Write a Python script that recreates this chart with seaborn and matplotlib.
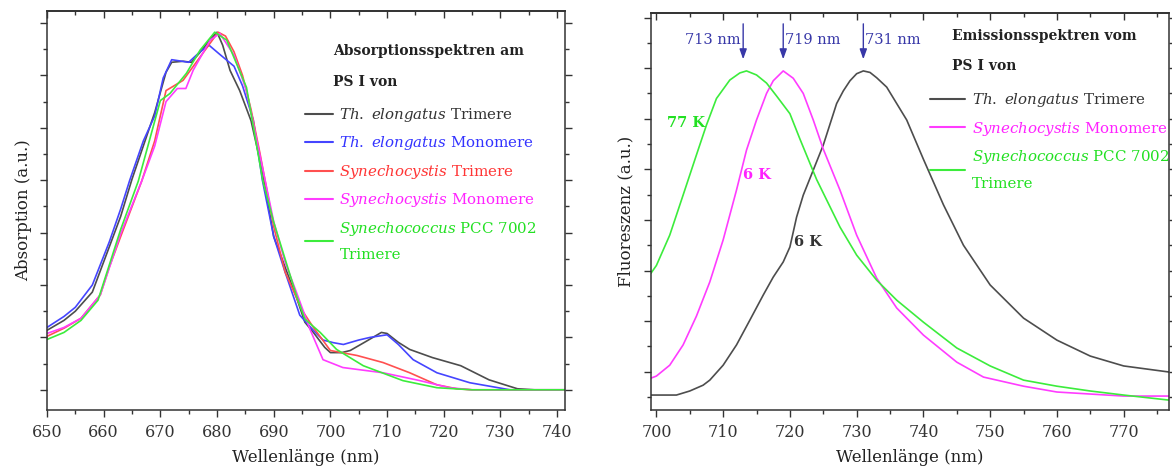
import pandas as pd
import seaborn as sns
import matplotlib.pyplot as plt
from matplotlib.lines import Line2D
from matplotlib.ticker import MultipleLocator, FixedLocator

# ---- absorption spectra (left panel), wavelength in nm, arbitrary units ----
abs_te_tri_x = [650, 653, 655, 658, 661, 663, 665, 667, 669, 671, 672, 674, 675.5, 677, 679, 680, 681,
                682.3, 684, 686, 688, 690, 692, 694, 695.5, 697, 699, 700, 702, 703.5, 706, 709, 710,
                712, 714, 718, 723, 728, 733, 736, 741.4]
abs_te_tri_y = [0.227, 0.265, 0.30, 0.373, 0.546, 0.662, 0.804, 0.931, 1.058, 1.212, 1.25, 1.254, 1.25,
                1.288, 1.342, 1.365, 1.315, 1.219, 1.142, 1.027, 0.835, 0.585, 0.469, 0.354, 0.258,
                0.219, 0.162, 0.142, 0.142, 0.15, 0.181, 0.219, 0.215, 0.181, 0.154, 0.123, 0.092,
                0.038, 0.004, 0.0, 0.0]

abs_te_mono_x = [650, 653, 655, 658, 661, 663, 664.6, 667, 669, 670.5, 672, 675, 677, 678.6, 680.5, 683,
                 684.5, 686.4, 688, 690, 692, 694.6, 697, 698.7, 700.5, 702.3, 705, 707, 710, 712,
                 714.6, 718.8, 724.6, 731.7, 741.4]
abs_te_mono_y = [0.238, 0.28, 0.315, 0.40, 0.565, 0.69, 0.80, 0.95, 1.045, 1.19, 1.26, 1.25, 1.29, 1.315,
                 1.28, 1.235, 1.16, 1.03, 0.80, 0.585, 0.45, 0.285, 0.227, 0.19, 0.18, 0.173, 0.19,
                 0.20, 0.21, 0.173, 0.115, 0.065, 0.027, 0.0, 0.0]

abs_sy_tri_x = [650, 653, 656, 659.4, 661, 663, 666.7, 669, 671, 674, 677, 680.2, 681.5, 683, 684.5,
                686, 687.6, 690, 692, 695, 697, 700, 704.7, 709.3, 714, 718.8, 722.3, 725, 741.4]
abs_sy_tri_y = [0.204, 0.235, 0.273, 0.362, 0.469, 0.585, 0.796, 0.95, 1.142, 1.181, 1.27, 1.365, 1.35,
                1.29, 1.20, 1.07, 0.9, 0.623, 0.45, 0.304, 0.238, 0.15, 0.131, 0.104, 0.065, 0.019,
                0.004, 0.0, 0.0]

abs_sy_mono_x = [650, 653, 656, 659.4, 663, 666.7, 669, 671, 673, 674.5, 675.8, 678.8, 680.5, 683, 685.2,
                 687.6, 690, 692, 694, 696.4, 698.7, 702.2, 709.3, 715.8, 721, 725, 741.4]
abs_sy_mono_y = [0.215, 0.238, 0.273, 0.362, 0.596, 0.796, 0.93, 1.10, 1.15, 1.15, 1.22, 1.335, 1.36,
                 1.277, 1.142, 0.892, 0.642, 0.488, 0.373, 0.231, 0.115, 0.085, 0.065, 0.035, 0.008,
                 0.0, 0.0]

abs_sc_tri_x = [650, 653, 656, 659, 663, 666.1, 670, 671.7, 674.6, 677, 679.6, 681.7, 685.2, 688.1, 690,
                692, 694, 695.5, 698.2, 701.1, 705.8, 712.8, 718.8, 725, 741.4]
abs_sc_tri_y = [0.192, 0.219, 0.265, 0.342, 0.612, 0.796, 1.104, 1.131, 1.208, 1.296, 1.365, 1.335,
                1.154, 0.796, 0.64, 0.50, 0.36, 0.27, 0.219, 0.154, 0.092, 0.035, 0.008, 0.0, 0.0]

# ---- emission spectra (right panel) ----
em_te_tri_x = [699.2, 700.5, 703, 705, 707, 708, 710, 712, 714, 716, 717.5, 719, 720, 721, 722, 723.5,
               725, 727, 728, 729, 730, 731, 732, 733, 734.5, 736, 737.5, 740, 743, 746, 750, 755,
               760, 765, 770, 776.8]
em_te_tri_y = [0.008, 0.008, 0.008, 0.024, 0.047, 0.067, 0.126, 0.206, 0.304, 0.403, 0.474, 0.534,
               0.593, 0.711, 0.798, 0.897, 0.996, 1.16, 1.21, 1.25, 1.278, 1.289, 1.283, 1.262,
               1.225, 1.16, 1.095, 0.94, 0.76, 0.60, 0.443, 0.312, 0.225, 0.162, 0.123, 0.099]

em_sy_mono_x = [699.2, 700, 702, 704, 706, 708, 710, 712, 713.5, 715, 716.5, 717.5, 719, 720.5, 722,
                723.5, 725, 727.5, 730, 733, 736, 740, 745, 749, 755, 760, 765, 770, 776.8]
em_sy_mono_y = [0.075, 0.083, 0.126, 0.206, 0.32, 0.455, 0.621, 0.818, 0.976, 1.095, 1.20, 1.25, 1.289,
                1.26, 1.20, 1.095, 0.98, 0.818, 0.64, 0.47, 0.352, 0.245, 0.138, 0.079, 0.043, 0.02,
                0.012, 0.004, 0.004]

em_sc_tri_x = [699.2, 700, 702, 704, 706, 707.5, 709, 711, 712.5, 713.5, 715, 716.5, 718, 720, 721.5,
               724, 727.5, 730, 733, 736, 740, 745, 750, 755, 760, 765, 770, 776.8]
em_sc_tri_y = [0.49, 0.52, 0.64, 0.798, 0.957, 1.075, 1.18, 1.253, 1.281, 1.289, 1.273, 1.241, 1.19,
               1.12, 1.02, 0.86, 0.672, 0.561, 0.462, 0.383, 0.296, 0.194, 0.123, 0.067, 0.043,
               0.024, 0.008, -0.012]

peak_nm = [713, 719, 731]
peak_labels = ['713 nm', '719 nm', '731 nm']

abs_names = ['te_tri', 'te_mono', 'sy_tri', 'sy_mono', 'sc_tri']
abs_labels = [r'$Th.\ elongatus$ Trimere', r'$Th.\ elongatus$ Monomere',
              r'$Synechocystis$ Trimere', r'$Synechocystis$ Monomere',
              '$Synechococcus$ PCC 7002\nTrimere']
em_names = ['te_tri', 'sy_mono', 'sc_tri']
em_labels = [abs_labels[0], abs_labels[3], abs_labels[4]]

line_col = {'te_tri': '#4d4d4d', 'te_mono': '#4545ff', 'sy_tri': '#ff5050',
            'sy_mono': '#ff3cff', 'sc_tri': '#3cec3c'}
text_col = {'te_tri': '#333333', 'te_mono': '#3333ff', 'sy_tri': '#ff3535',
            'sy_mono': '#ff22ff', 'sc_tri': '#22e022'}
arrow_col = '#3838a8'


def frame(xs, ys, names):
    parts = []
    for x, y, n in zip(xs, ys, names):
        parts.append(pd.DataFrame({'wl': x, 'val': y, 'sample': n}))
    return pd.concat(parts, ignore_index=True)


abs_df = frame([abs_te_tri_x, abs_te_mono_x, abs_sy_tri_x, abs_sy_mono_x, abs_sc_tri_x],
               [abs_te_tri_y, abs_te_mono_y, abs_sy_tri_y, abs_sy_mono_y, abs_sc_tri_y], abs_names)
em_df = frame([em_te_tri_x, em_sy_mono_x, em_sc_tri_x],
              [em_te_tri_y, em_sy_mono_y, em_sc_tri_y], em_names)

sns.set_theme(style='ticks')
plt.rcParams['font.family'] = ['DejaVu Serif']
plt.rcParams['mathtext.fontset'] = 'custom'
plt.rcParams['mathtext.it'] = 'DejaVu Serif:italic'
plt.rcParams['mathtext.rm'] = 'DejaVu Serif'

fig = plt.figure(figsize=(11.72, 4.70), dpi=100)
ax1 = fig.add_axes([0.0401, 0.1277, 0.442, 0.849])
ax2 = fig.add_axes([0.5555, 0.1277, 0.442, 0.8447])

sns.lineplot(data=abs_df, x='wl', y='val', hue='sample', hue_order=abs_names, palette=line_col,
             estimator=None, sort=False, lw=1.2, legend=False, ax=ax1)
sns.lineplot(data=em_df, x='wl', y='val', hue='sample', hue_order=em_names, palette=line_col,
             estimator=None, sort=False, lw=1.2, legend=False, ax=ax2)


def style_axes(ax, xlim, ylim, ymajor, yminor):
    ax.set_xlim(*xlim)
    ax.set_ylim(*ylim)
    ax.xaxis.set_major_locator(MultipleLocator(10))
    ax.xaxis.set_minor_locator(MultipleLocator(5))
    ax.yaxis.set_major_locator(FixedLocator(ymajor))
    ax.yaxis.set_minor_locator(FixedLocator(yminor))
    ax.tick_params(which='both', direction='out', right=True, labelleft=False, colors='#333333',
                   labelsize=11.5, width=1.0, pad=5)
    ax.tick_params(which='major', length=5)
    ax.tick_params(which='minor', length=3)
    top = ax.secondary_xaxis('top')
    top.xaxis.set_major_locator(MultipleLocator(10))
    top.xaxis.set_minor_locator(MultipleLocator(5))
    top.tick_params(which='both', direction='in', labeltop=False, color='#333333', width=1.0)
    top.tick_params(which='major', length=5)
    top.tick_params(which='minor', length=3)
    for s in ax.spines.values():
        s.set_color('#333333')
        s.set_linewidth(1.1)
    ax.set_xlabel('Wellenlänge (nm)', fontsize=12, color='#222222', labelpad=6)


style_axes(ax1, (650, 741.4), (-0.077, 1.446),
           [0, 0.2, 0.4, 0.6, 0.8, 1.0, 1.2, 1.4], [0.1, 0.3, 0.5, 0.7, 0.9, 1.1, 1.3])
style_axes(ax2, (699.2, 776.8), (-0.051, 1.518),
           [0.1, 0.3, 0.5, 0.7, 0.9, 1.1, 1.3, 1.5], [0.0, 0.2, 0.4, 0.6, 0.8, 1.0, 1.2, 1.4])
ax1.set_ylabel('Absorption (a.u.)', fontsize=12, color='#222222', labelpad=6)
ax2.set_ylabel('Fluoreszenz (a.u.)', fontsize=12, color='#222222', labelpad=7)


def add_legend(ax, names, labels, anchor, title, title_xy, hlen):
    handles = [Line2D([], [], color=line_col[n], lw=1.5) for n in names]
    leg = ax.legend(handles, labels, loc='upper left', bbox_to_anchor=anchor, frameon=False,
                    fontsize=10.8, handlelength=hlen, handletextpad=0.45, labelspacing=0.7,
                    borderpad=0, borderaxespad=0, labelcolor=[text_col[n] for n in names])
    for t in leg.get_texts():
        t.set_linespacing(1.95)
    ax.text(title_xy[0], title_xy[1], title, transform=ax.transAxes, ha='left', va='top',
            fontsize=10, fontweight='bold', color='#222222', linespacing=2.5)


add_legend(ax1, abs_names, abs_labels, (0.498, 0.762), 'Absorptionsspektren am\nPS I von',
           (0.552, 0.917), 1.85)
add_legend(ax2, em_names, em_labels, (0.539, 0.803), 'Emissionsspektren vom\nPS I von',
           (0.581, 0.960), 2.3)

# peak markers in the emission panel
for nm, lab in zip(peak_nm, peak_labels):
    ax2.annotate('', xy=(nm, 1.335), xytext=(nm, 1.475),
                 arrowprops=dict(arrowstyle='-|>,head_length=0.5,head_width=0.18',
                                 color=arrow_col, lw=1.0, shrinkA=0, shrinkB=0))
    if nm == peak_nm[0]:
        ax2.text(nm - 0.4, 1.41, lab, ha='right', va='center', fontsize=10.5, color=arrow_col)
    else:
        ax2.text(nm + 0.3, 1.41, lab, ha='left', va='center', fontsize=10.5, color=arrow_col)

ax2.text(701.6, 1.083, '77 K', ha='left', va='center', fontsize=10.5, fontweight='bold',
         color=text_col['sc_tri'])
ax2.text(713.0, 0.877, '6 K', ha='left', va='center', fontsize=10.5, fontweight='bold',
         color=text_col['sy_mono'])
ax2.text(720.6, 0.613, '6 K', ha='left', va='center', fontsize=10.5, fontweight='bold',
         color=text_col['te_tri'])

fig.savefig('out.png', dpi=100)
